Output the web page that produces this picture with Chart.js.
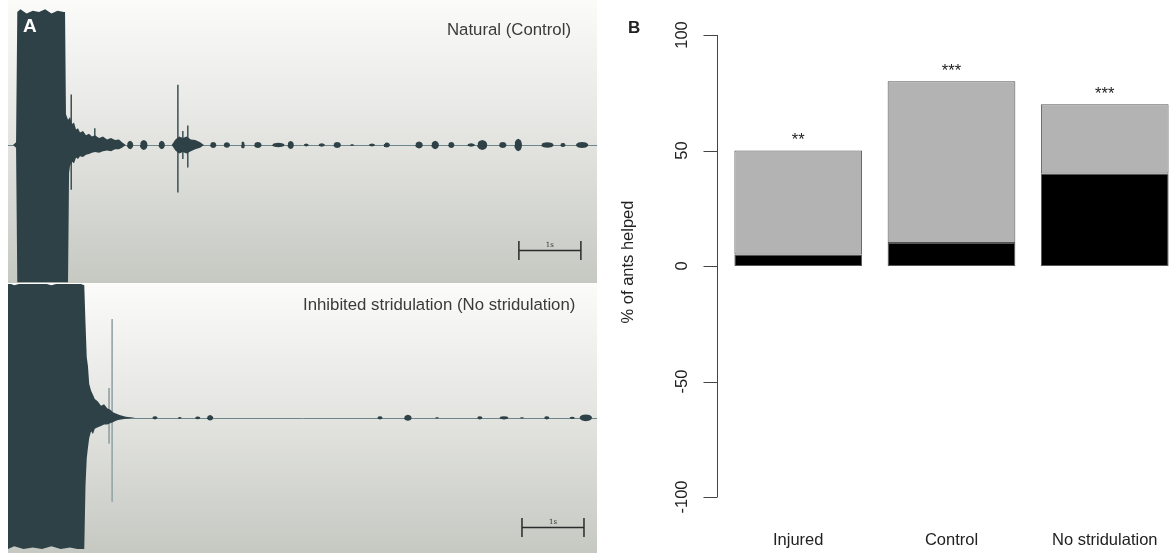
<!DOCTYPE html>
<html>
<head>
<meta charset="utf-8">
<script src="https://cdn.jsdelivr.net/npm/chart.js@4.4.0/dist/chart.umd.min.js"></script>
<style>
  body { margin: 0; background: #fff; width: 1175px; height: 553px; overflow: hidden; position: relative; }
  canvas { position: absolute; }
</style>
</head>
<body>
<canvas id="natural" width="589" height="283" style="left:8px;top:0"></canvas>
<canvas id="nostrid" width="589" height="269" style="left:8px;top:284px"></canvas>
<canvas id="bars" width="575" height="553" style="left:600px;top:0"></canvas>
<script>
// ---- panel A : waveform envelopes (time in s, amplitude relative to full scale) ----
const natTime  = [0.08, 0.13, 0.15, 0.2, 0.3, 0.4, 0.5, 0.6, 0.7, 0.8, 0.9, 0.92,
                  0.935, 0.968, 0.985, 1.0, 1.032, 1.065, 1.097, 1.129, 1.161, 1.21, 1.258, 1.306, 1.355, 1.403,
                  1.468, 1.532, 1.597, 1.661, 1.726, 1.79, 1.839, 1.9,
                  2.64, 2.7, 2.76, 2.82, 2.88, 2.95, 3.02, 3.1, 3.16];
const natUpper = [0, 0.02, 0.95, 0.97, 0.94, 0.96, 0.95, 0.97, 0.94, 0.96, 0.95, 0.95,
                  0.22, 0.18, 0.19, 0.2, 0.15, 0.16, 0.11, 0.12, 0.09, 0.1, 0.07, 0.08, 0.06, 0.07,
                  0.05, 0.06, 0.04, 0.05, 0.035, 0.04, 0.02, 0,
                  0, 0.04, 0.06, 0.05, 0.06, 0.04, 0.035, 0.02, 0];
const natLower = [0, -0.02, -0.98, -0.98, -0.98, -0.98, -0.98, -0.98, -0.98, -0.98, -0.98, -0.98,
                  -0.98, -0.98, -0.2, -0.15, -0.12, -0.13, -0.09, -0.1, -0.08, -0.085, -0.07, -0.065, -0.055, -0.05,
                  -0.055, -0.045, -0.04, -0.045, -0.03, -0.03, -0.02, 0,
                  0, -0.04, -0.06, -0.05, -0.06, -0.045, -0.03, -0.02, 0];
// [time, amplitude, half width]
const natBlobs = [[1.97, 0.03, 0.05], [2.19, 0.035, 0.06], [2.48, 0.03, 0.05], [3.31, 0.022, 0.05], [3.53, 0.02, 0.05],
                  [3.79, 0.025, 0.03], [4.03, 0.022, 0.06], [4.36, 0.016, 0.1], [4.56, 0.028, 0.05], [4.81, 0.01, 0.04],
                  [5.06, 0.012, 0.05], [5.31, 0.022, 0.06], [5.55, 0.006, 0.03], [5.87, 0.01, 0.05], [6.11, 0.018, 0.05],
                  [6.63, 0.025, 0.06], [6.89, 0.03, 0.06], [7.15, 0.022, 0.05], [7.47, 0.012, 0.06], [7.65, 0.035, 0.08],
                  [7.98, 0.022, 0.06], [8.23, 0.045, 0.06], [8.7, 0.02, 0.1], [8.95, 0.015, 0.04], [9.26, 0.022, 0.1]];
// [time, top, bottom]
const natSpikes = [[1.02, 0.36, -0.32], [1.4, 0.12, -0.02], [2.74, 0.43, -0.34], [2.82, 0.1, -0.1], [2.9, 0.14, -0.16]];

const nsTime  = [0, 0.1, 0.25, 0.4, 0.55, 0.7, 0.85, 1.0, 1.12, 1.23, 1.25, 1.27, 1.29, 1.31, 1.34, 1.37, 1.4, 1.45,
                 1.5, 1.55, 1.6, 1.65, 1.7, 1.75, 1.8, 1.9, 2.05];
const nsUpper = [1.0, 0.98, 1.0, 0.99, 1.0, 0.98, 1.0, 0.99, 1.0, 0.98, 0.7, 0.45, 0.38, 0.25, 0.2, 0.17, 0.14, 0.12,
                 0.09, 0.1, 0.07, 0.06, 0.04, 0.03, 0.02, 0.008, 0];
const nsLower = [-0.97, -0.95, -0.97, -0.96, -0.97, -0.95, -0.97, -0.96, -0.97, -0.97, -0.5, -0.3, -0.22, -0.15, -0.1, -0.12, -0.08, -0.07,
                 -0.06, -0.05, -0.05, -0.04, -0.03, -0.02, -0.015, -0.006, 0];
const nsBlobs = [[2.37, 0.012, 0.04], [2.77, 0.006, 0.03], [3.06, 0.01, 0.04], [3.26, 0.02, 0.05], [6.0, 0.012, 0.04],
                 [6.45, 0.022, 0.06], [6.92, 0.005, 0.03], [7.61, 0.012, 0.04], [8.0, 0.012, 0.07], [8.29, 0.005, 0.03],
                 [8.69, 0.012, 0.04], [9.1, 0.008, 0.04], [9.32, 0.025, 0.1]];
const nsSpikes = [[1.63, 0.22, -0.19], [1.68, 0.73, -0.62]];

// ---- panel B : % of ants helped ----
const groups   = ['Injured', 'Control', 'No stridulation'];
const blackPct = [5, 10, 40];
const greyPct  = [45, 70, 30];
const signif   = ['**', '***', '***'];
const yTicks   = [-100, -50, 0, 50, 100];

const WAVE = '#2e4147';
const FONT = '"Liberation Sans", Arial, sans-serif';

function buildEnvelope(time, upper, lower, blobs, tEnd) {
  const pts = time.map((t, i) => ({ t: t, u: upper[i], l: lower[i] }));
  // each blob is drawn as a small lens around its peak
  blobs.forEach(([t, a, w]) => {
    pts.push({ t: t - w, u: 0, l: 0 }, { t: t - 0.9 * w, u: 0.44 * a, l: -0.44 * a },
             { t: t - 0.6 * w, u: 0.8 * a, l: -0.8 * a }, { t: t, u: a, l: -a },
             { t: t + 0.6 * w, u: 0.8 * a, l: -0.8 * a }, { t: t + 0.9 * w, u: 0.44 * a, l: -0.44 * a },
             { t: t + w, u: 0, l: 0 });
  });
  pts.push({ t: tEnd, u: 0, l: 0 });
  pts.sort((a, b) => a.t - b.t);
  return pts;
}

function spikeData(spikes) {
  const out = [];
  spikes.forEach(([t, top, bot]) => {
    out.push({ x: t, y: top }, { x: t, y: bot }, { x: t, y: null });
  });
  return out;
}

function wavePanel(cfg) {
  return {
    id: 'wavePanel',
    beforeDraw(chart) {
      const { ctx, chartArea: a } = chart;
      const g = ctx.createLinearGradient(0, a.top, 0, a.bottom);
      g.addColorStop(0, '#fbfbfa');
      g.addColorStop(0.5, '#e3e4e0');
      g.addColorStop(1, '#c6c8c2');
      ctx.save();
      ctx.fillStyle = g;
      ctx.fillRect(a.left, a.top, a.right - a.left, a.bottom - a.top);
      ctx.restore();
    },
    beforeDatasetsDraw(chart) {
      const { ctx, chartArea: a, scales: { y } } = chart;
      const y0 = Math.round(y.getPixelForValue(0)) + 0.5;
      ctx.save();
      ctx.strokeStyle = '#6d868b';
      ctx.lineWidth = 1;
      ctx.beginPath();
      ctx.moveTo(a.left, y0);
      ctx.lineTo(a.right, y0);
      ctx.stroke();
      ctx.restore();
    },
    afterDraw(chart) {
      const { ctx, scales: { x, y } } = chart;
      ctx.save();
      // caption
      ctx.fillStyle = '#3a3a3a';
      ctx.font = '16.8px ' + FONT;
      ctx.textBaseline = 'middle';
      ctx.textAlign = cfg.labelAlign;
      ctx.fillText(cfg.label, cfg.labelX, cfg.labelY);
      if (cfg.letter) {
        ctx.fillStyle = '#ffffff';
        ctx.font = 'bold 19px ' + FONT;
        ctx.textAlign = 'left';
        ctx.textBaseline = 'alphabetic';
        ctx.fillText(cfg.letter, 15, 32);
      }
      // 1 s scale bar
      const x1 = x.getPixelForValue(cfg.barT), x2 = x.getPixelForValue(cfg.barT + 1);
      const yb = Math.round(y.getPixelForValue(cfg.barAmp)) + 0.5;
      ctx.strokeStyle = '#2b2b2b';
      ctx.lineWidth = 1.5;
      ctx.beginPath();
      ctx.moveTo(x1, yb); ctx.lineTo(x2, yb);
      ctx.moveTo(x1, yb - 9.5); ctx.lineTo(x1, yb + 9.5);
      ctx.moveTo(x2, yb - 9.5); ctx.lineTo(x2, yb + 9.5);
      ctx.stroke();
      ctx.fillStyle = '#333';
      ctx.font = '7px "DejaVu Serif", serif';
      ctx.textAlign = 'center';
      ctx.textBaseline = 'alphabetic';
      ctx.fillText('1s', (x1 + x2) / 2, yb - 4);
      ctx.restore();
    }
  };
}

function waveChart(id, time, upper, lower, blobs, spikes, cfg) {
  const pts = buildEnvelope(time, upper, lower, blobs, 9.5);
  new Chart(document.getElementById(id), {
    type: 'line',
    data: {
      datasets: [
        { data: pts.map(p => ({ x: p.t, y: p.u })), fill: '+1', backgroundColor: WAVE,
          borderColor: 'rgba(0,0,0,0)', borderWidth: 0, pointRadius: 0 },
        { data: pts.map(p => ({ x: p.t, y: p.l })), fill: false,
          borderColor: 'rgba(0,0,0,0)', borderWidth: 0, pointRadius: 0 },
        { data: spikeData(spikes), fill: false, borderColor: cfg.spikeColor, borderWidth: cfg.spikeWidth,
          pointRadius: 0, spanGaps: false }
      ]
    },
    options: {
      responsive: false,
      animation: false,
      events: [],
      layout: { padding: 0 },
      elements: { line: { tension: 0 } },
      scales: {
        x: { type: 'linear', display: false, min: 0, max: 9.5 },
        y: { display: false, min: cfg.yMin, max: cfg.yMax }
      },
      plugins: { legend: { display: false }, tooltip: { enabled: false } }
    },
    plugins: [wavePanel(cfg)]
  });
}

waveChart('natural', natTime, natUpper, natLower, natBlobs, natSpikes, {
  yMin: -0.986, yMax: 1.036, spikeColor: '#3d5257', spikeWidth: 1.5,
  label: 'Natural (Control)', labelAlign: 'right', labelX: 563, labelY: 30, letter: 'A',
  barT: 8.24, barAmp: -0.75
});
waveChart('nostrid', nsTime, nsUpper, nsLower, nsBlobs, nsSpikes, {
  yMin: -1.0, yMax: 0.99, spikeColor: '#97a7aa', spikeWidth: 1,
  label: 'Inhibited stridulation (No stridulation)', labelAlign: 'left', labelX: 295, labelY: 21,
  barT: 8.29, barAmp: -0.807
});

// ---- panel B ----
const barWidth = 1, barSpace = 0.2;                // R barplot defaults
const barX = groups.map((g, i) => barSpace + barWidth / 2 + i * (barWidth + barSpace));

const barPanel = {
  id: 'barPanel',
  afterDraw(chart) {
    const { ctx, chartArea: a, scales: { x, y } } = chart;
    const ax = Math.round(a.left) + 0.5;
    ctx.save();
    ctx.strokeStyle = '#444';
    ctx.lineWidth = 1;
    ctx.beginPath();
    ctx.moveTo(ax, y.getPixelForValue(yTicks[0]));
    ctx.lineTo(ax, y.getPixelForValue(yTicks[yTicks.length - 1]));
    yTicks.forEach(v => {
      const py = Math.round(y.getPixelForValue(v)) + 0.5;
      ctx.moveTo(ax - 14, py); ctx.lineTo(ax, py);
    });
    ctx.stroke();

    ctx.fillStyle = '#222';
    ctx.font = '16.5px ' + FONT;
    ctx.textAlign = 'center';
    ctx.textBaseline = 'middle';
    yTicks.forEach(v => {
      ctx.save();
      ctx.translate(ax - 35, y.getPixelForValue(v));
      ctx.rotate(-Math.PI / 2);
      ctx.fillText(String(v), 0, 0);
      ctx.restore();
    });
    ctx.save();
    ctx.translate(ax - 89, (y.getPixelForValue(100) + y.getPixelForValue(-100)) / 2 - 4);
    ctx.rotate(-Math.PI / 2);
    ctx.fillText('% of ants helped', 0, 0);
    ctx.restore();

    groups.forEach((g, i) => {
      const px = x.getPixelForValue(barX[i]);
      ctx.textBaseline = 'middle';
      ctx.fillText(g, px, 540);
      ctx.textBaseline = 'alphabetic';
      const py = y.getPixelForValue(blackPct[i] + greyPct[i] + 6.5);
      ctx.fillText(signif[i], px, py + 9.5);
    });

    ctx.font = 'bold 17px ' + FONT;
    ctx.textAlign = 'left';
    ctx.textBaseline = 'alphabetic';
    ctx.fillText('B', 28, 33);
    ctx.restore();
  }
};

new Chart(document.getElementById('bars'), {
  type: 'bar',
  data: {
    datasets: [
      { data: blackPct.map((v, i) => ({ x: barX[i], y: v })), backgroundColor: '#000000' },
      { data: greyPct.map((v, i) => ({ x: barX[i], y: v })), backgroundColor: '#b3b3b3' }
    ]
  },
  options: {
    responsive: false,
    animation: false,
    events: [],
    layout: { padding: { left: 117, top: 35, right: 0, bottom: 56 } },
    datasets: {
      bar: { borderColor: '#555', borderWidth: 1, borderSkipped: false,
             barPercentage: 1, categoryPercentage: barWidth / (barWidth + barSpace) }
    },
    scales: {
      x: { type: 'linear', display: false, stacked: true, min: 0.064, max: 3.65,
           afterBuildTicks: s => { s.ticks = []; } },
      y: { display: false, stacked: true, min: yTicks[0], max: yTicks[yTicks.length - 1] }
    },
    plugins: { legend: { display: false }, tooltip: { enabled: false } }
  },
  plugins: [barPanel]
});
</script>
</body>
</html>
